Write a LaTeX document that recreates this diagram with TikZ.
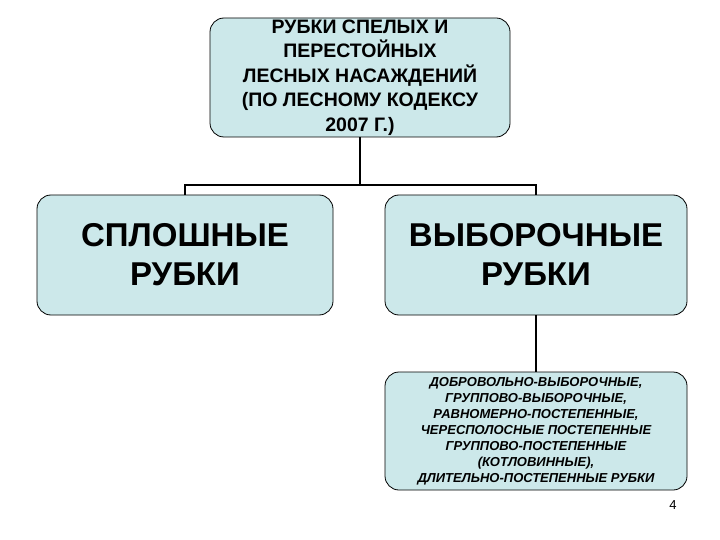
\documentclass[tikz,border=0pt]{standalone}
\usepackage{fontspec}
\setmainfont{Liberation Sans}
\definecolor{boxfill}{RGB}{204,232,234}
\begin{document}
\begin{tikzpicture}[x=1pt,y=-1pt,
  box/.style={draw=black,line width=0.8pt,fill=boxfill,rounded corners=14pt,align=center,inner sep=0pt},
  conn/.style={line width=1.6pt}]
\useasboundingbox (0,0) rectangle (720,540);
\node[box,minimum width=300pt,minimum height=119pt,font=\bfseries\fontsize{19.5}{24.5}\selectfont] (top) at (360,77.5) {РУБКИ СПЕЛЫХ И\\ПЕРЕСТОЙНЫХ\\ЛЕСНЫХ НАСАЖДЕНИЙ\\(ПО ЛЕСНОМУ КОДЕКСУ\\2007 Г.)};
\node[box,minimum width=296pt,minimum height=120pt,font=\bfseries\fontsize{33}{39}\selectfont] (left) at (185,255) {СПЛОШНЫЕ\\РУБКИ};
\node[box,minimum width=302pt,minimum height=120pt,font=\bfseries\fontsize{33}{39}\selectfont] (right) at (536,255) {ВЫБОРОЧНЫЕ\\РУБКИ};
\node[box,minimum width=302pt,minimum height=118pt,font=\bfseries\itshape\fontsize{13}{16}\selectfont] (bot) at (536,431) {ДОБРОВОЛЬНО-ВЫБОРОЧНЫЕ,\\ГРУППОВО-ВЫБОРОЧНЫЕ,\\РАВНОМЕРНО-ПОСТЕПЕННЫЕ,\\ЧЕРЕСПОЛОСНЫЕ ПОСТЕПЕННЫЕ\\ГРУППОВО-ПОСТЕПЕННЫЕ\\(КОТЛОВИННЫЕ),\\ДЛИТЕЛЬНО-ПОСТЕПЕННЫЕ РУБКИ};
\coordinate (j) at (360,185);
\draw[conn] (top.south) -- (j);
\draw[conn] (left.north) |- (j) -| (right.north);
\draw[conn] (right.south) -- (bot.north);
\node[font=\fontsize{13}{15}\selectfont] (pg) at (673,505) {4};
\end{tikzpicture}
\end{document}
